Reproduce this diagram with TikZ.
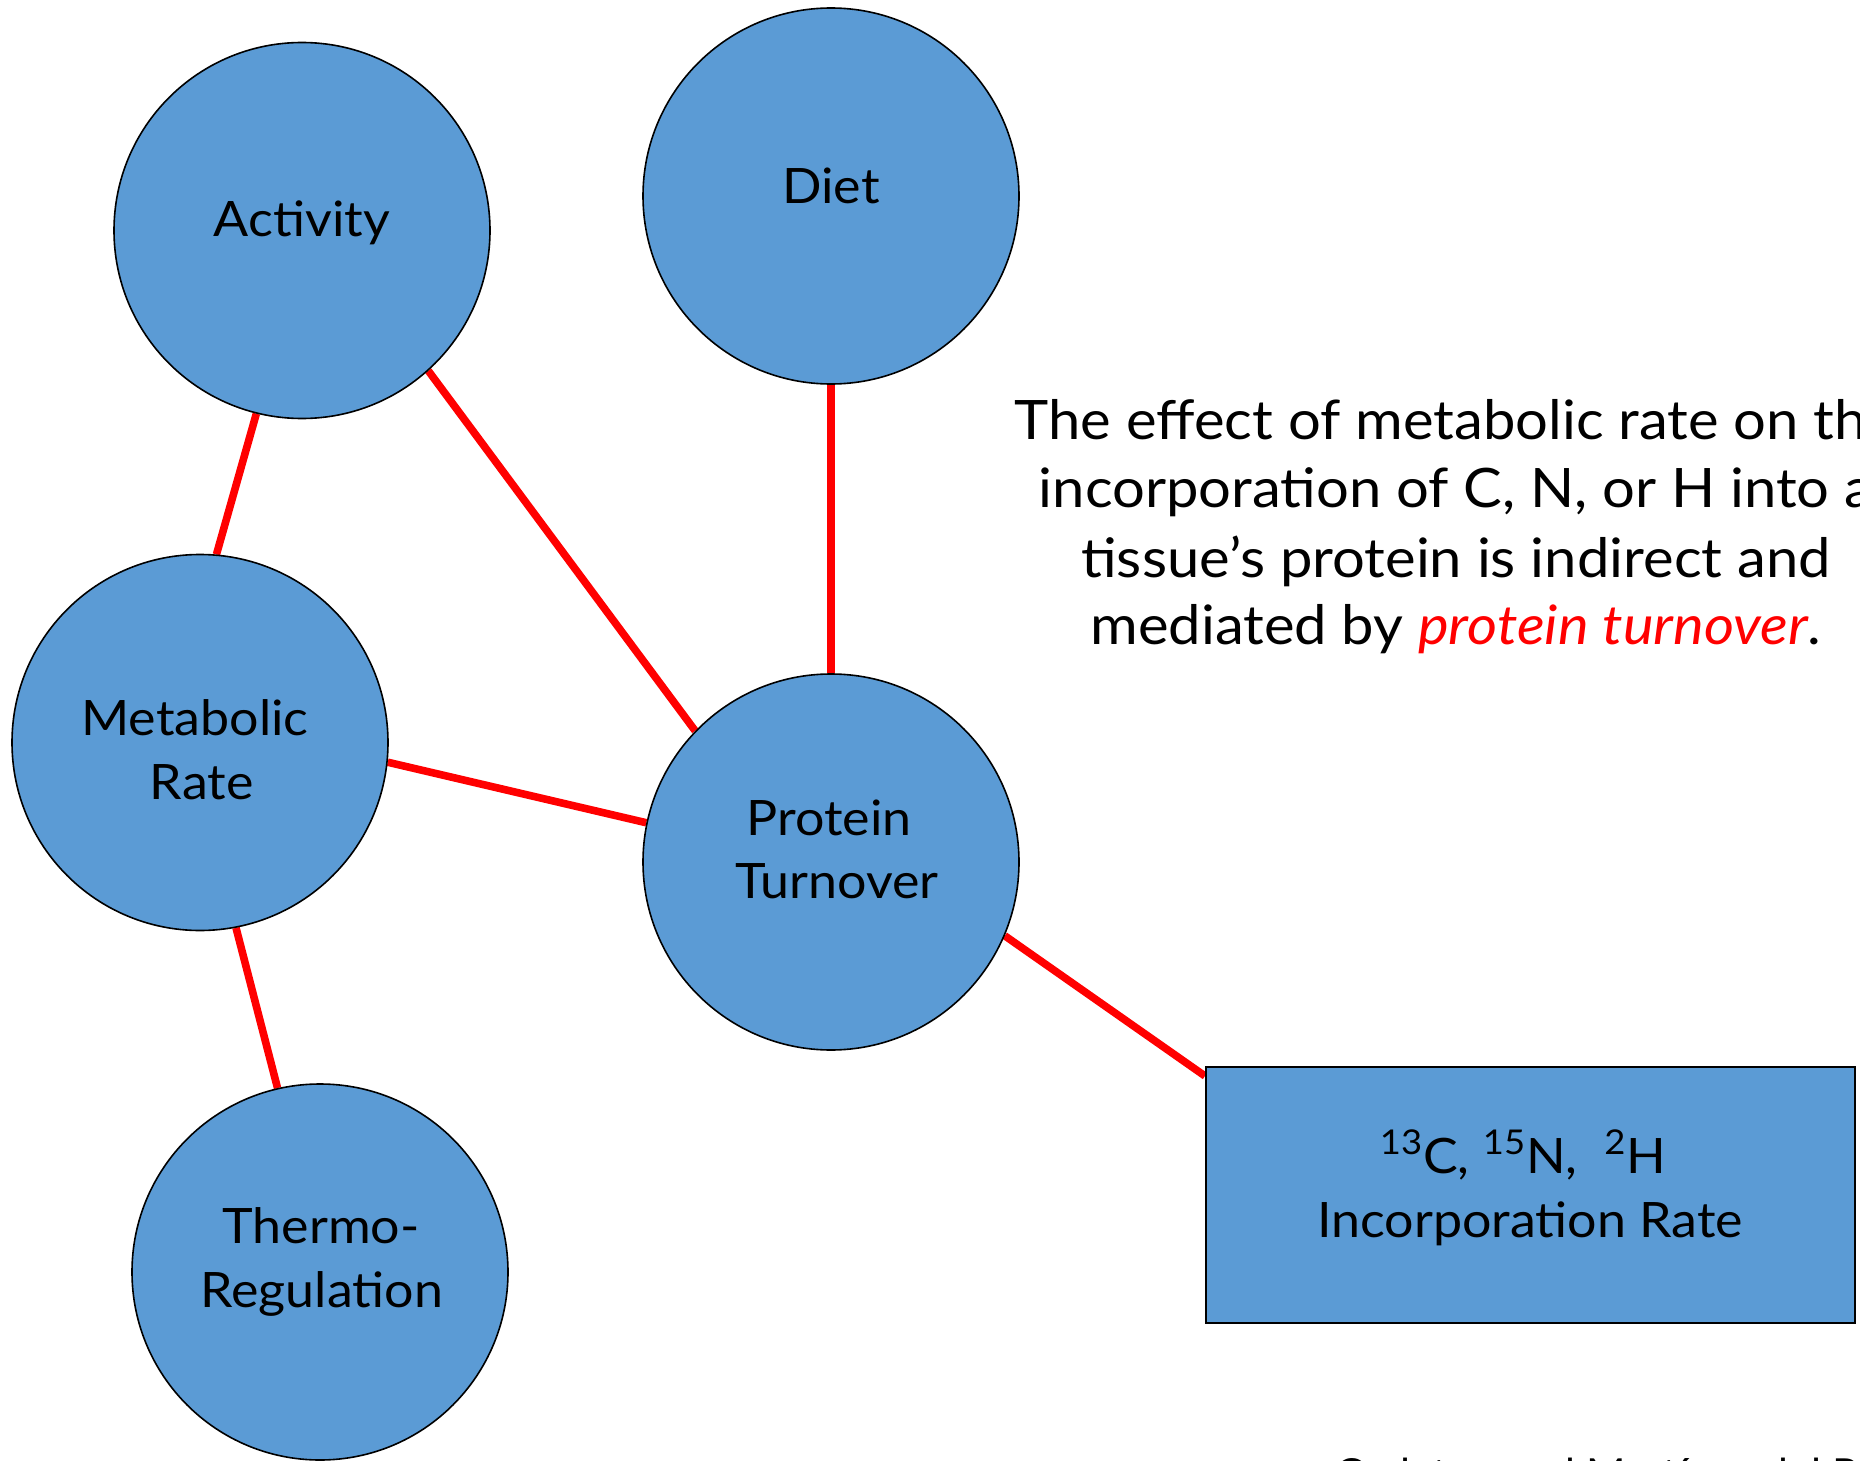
\documentclass[tikz,border=0pt]{standalone}
\usepackage{fontspec}
\setmainfont{Lato}
\newfontfamily\wideLato[FakeStretch=1.065]{Lato}
\usetikzlibrary{backgrounds,calc}
\definecolor{nodeblue}{RGB}{91,155,213}
\definecolor{linkred}{RGB}{255,0,0}
\tikzset{
  circ/.style={circle,draw=black,line width=0.8pt,fill=nodeblue,minimum size=188pt,inner sep=0pt},
  boxnode/.style={rectangle,draw=black,line width=1pt,fill=nodeblue,minimum width=324.5pt,minimum height=128pt,inner sep=0pt},
  lbl/.style={anchor=base,inner sep=0pt,font=\wideLato\fontsize{24.4pt}{32pt}\selectfont},
  para/.style={anchor=base,inner sep=0pt,font=\wideLato\fontsize{27.2pt}{34pt}\selectfont},
  link/.style={draw=linkred,line width=3.8pt},
}
\begin{document}
\begin{tikzpicture}[x=0.5pt,y=-0.5pt]
\clip (0,0) rectangle (1860,1461);
% circles and box
\node[circ] (act) at (302,230.5) {};
\node[circ] (diet) at (831,196) {};
\node[circ] (met) at (200,742.5) {};
\node[circ] (prot) at (831,862) {};
\node[circ] (thermo) at (320,1272) {};
\node[boxnode] (rc) at (1530.5,1195) {};
% labels
\node[lbl] (actT) at (302,236.7) {Activity};
\node[lbl] (dietT) at (831,204) {Diet};
\node[lbl] (metT1) at (195,735) {Metabolic};
\node[lbl] (metT2) at (201.7,799) {Rate};
\node[lbl] (protT1) at (829,835) {Protein};
\node[lbl] (protT2) at (837,898) {Turnover};
\node[lbl] (thermoT1) at (321,1243) {Thermo-};
\node[lbl] (thermoT2) at (321.7,1307) {Regulation};
\node[lbl] (rcT1) at (1523,1173) {\textsuperscript{13}C, \textsuperscript{15}N,\ \ \textsuperscript{2}H};
\node[lbl] (rcT2) at (1530,1237) {Incorporation Rate};
% paragraph
\node[para] (p1) at (1456,439) {The effect of metabolic rate on the};
\node[para] (p2) at (1456,507) {incorporation of C, N, or H into a};
\node[para] (p3) at (1456,577) {tissue’s protein is indirect and};
\node[para] (p4) at (1456,644) {mediated by \textcolor{linkred}{\itshape protein turnover}.};
% citation (cut by the lower edge)
\node[anchor=base west,inner sep=0pt,font=\wideLato\fontsize{20pt}{24pt}\selectfont] (cite) at (1335,1487) {Carleton and Martínez del Rio 2005};
% connectors
\begin{scope}[on background layer]
\draw[link] (act.-104.7) -- (met.85.6);
\draw[link] (act.-48) -- (prot.136);
\draw[link] (diet.south) -- (prot.north);
\draw[link] (met.-6.3) -- (prot.168.3);
\draw[link] (met.-79.4) -- (thermo.103.5);
\draw[link] (prot.-23.9) -- ($(rc.north west)+(0,10)$);
\end{scope}
\end{tikzpicture}
\end{document}
